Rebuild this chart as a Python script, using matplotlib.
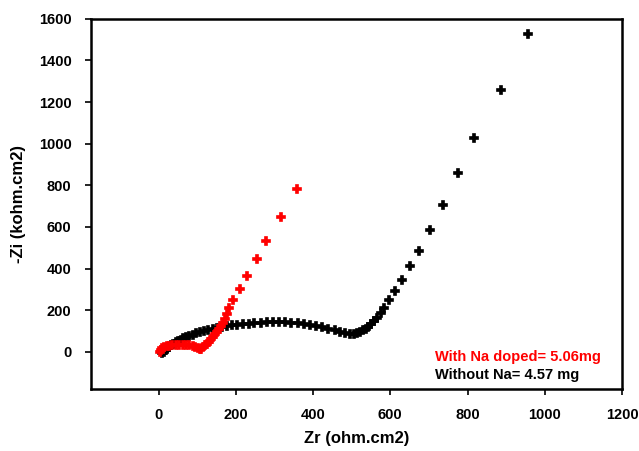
import matplotlib.pyplot as plt

plt.rcParams["font.family"] = ["Liberation Sans", "DejaVu Sans"]
plt.rcParams["font.weight"] = "bold"

# Without Na (black)
zr_plain = [10, 14, 18, 22, 27, 32, 38, 44, 50, 57, 64, 72, 80, 89, 98, 108,
            118, 129, 140, 152, 164, 177, 190, 204, 218, 233, 248, 264, 280,
            296, 312, 328, 344, 360, 376, 392, 408, 424, 440, 456, 470, 484,
            496, 506, 515, 522, 529, 536, 543, 550, 558, 566, 575, 585, 597,
            612, 630, 651, 674, 704, 736, 775, 818, 886, 957]
zi_plain = [-5, 2, 10, 18, 26, 33, 40, 47, 53, 59, 65, 71, 77, 83, 89, 95,
            100, 105, 110, 115, 119, 123, 127, 130, 133, 136, 139, 141, 142,
            143, 143, 142, 140, 137, 134, 130, 125, 119, 112, 105, 98, 92,
            88, 87, 90, 96, 103, 112, 122, 134, 148, 165, 185, 210, 250,
            293, 346, 411, 486, 586, 704, 858, 1029, 1256, 1528]

# With Na doped (red)
zr_na = [3, 6, 10, 15, 21, 28, 36, 45, 54, 63, 72, 80, 88, 95, 101, 106,
         111, 116, 121, 126, 131, 136, 141, 146, 151, 156, 161, 166, 171,
         177, 183, 194, 211, 230, 254, 279, 317, 358]
zi_na = [2, 10, 17, 23, 27, 30, 32, 34, 35, 35, 34, 32, 29, 24, 18, 13,
         15, 22, 31, 40, 50, 61, 72, 84, 96, 110, 125, 141, 158,
         180, 210, 250, 304, 365, 445, 533, 647, 782]

fig = plt.figure(figsize=(6.39, 4.51), dpi=100)
ax = fig.add_axes([0.1424, 0.1375, 0.831, 0.821])

ax.plot(zr_plain, zi_plain, "P", color="black", markersize=5.5,
        markeredgewidth=1.2, linestyle="none")
ax.plot(zr_na, zi_na, "P", color="red", markersize=5.5,
        markeredgewidth=1.2, linestyle="none")

ax.set_xlim(-175, 1200)
ax.set_ylim(-178, 1600)
ax.set_xticks([0, 200, 400, 600, 800, 1000, 1200])
ax.set_yticks([0, 200, 400, 600, 800, 1000, 1200, 1400, 1600])

for side in ["left", "bottom", "top", "right"]:
    ax.spines[side].set_linewidth(1.8)
ax.tick_params(direction="out", length=4, width=1.2, labelsize=10.5,
               top=False, right=False, pad=10)
for lab in ax.get_xticklabels() + ax.get_yticklabels():
    lab.set_fontweight("bold")

ax.set_xlabel("Zr (ohm.cm2)", fontsize=12, fontweight="bold", labelpad=6)
ax.set_ylabel("-Zi (kohm.cm2)", fontsize=12, fontweight="bold", labelpad=9)

ax.text(717, -22, "With Na doped= 5.06mg", color="red", fontsize=10.5,
        fontweight="bold", va="center")
ax.text(717, -112, "Without Na= 4.57 mg", color="black", fontsize=10.5,
        fontweight="bold", va="center")

fig.savefig("out.png", dpi=100)
